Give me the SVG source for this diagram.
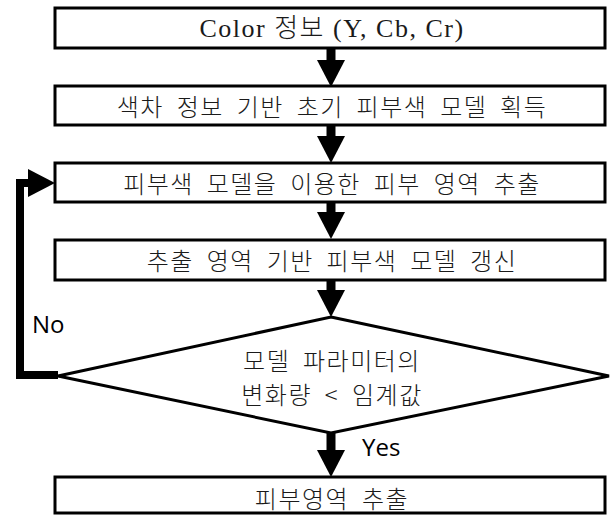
<svg xmlns="http://www.w3.org/2000/svg" width="612" height="515" viewBox="0 0 612 515">
<style>
.box{fill:#fff;stroke:#000;stroke-width:3}
.t{font-family:"Liberation Serif","Noto Sans CJK KR",serif;font-size:26px;fill:#1a1a1a;text-anchor:middle;dominant-baseline:central;letter-spacing:1.5px;font-weight:300}
.k{font-family:"Noto Sans CJK KR",sans-serif;font-size:24px;fill:#1a1a1a;text-anchor:middle;dominant-baseline:central;letter-spacing:1.5px;word-spacing:6px;font-weight:300}
.lbl{font-family:"Open Sans","Noto Sans",sans-serif;font-size:24px;fill:#000}
.shaft{stroke:#000;stroke-width:9;fill:none}
</style>
<defs>
<path id="ah" d="M-14,0 L14,0 L0,27 Z" fill="#000"/>
</defs>
<g id="connectors">
<line class="shaft" x1="331" y1="48" x2="331" y2="62"/><use href="#ah" x="331" y="60"/>
<line class="shaft" x1="331" y1="125" x2="331" y2="138"/><use href="#ah" x="331" y="136"/>
<line class="shaft" x1="331" y1="202" x2="331" y2="214"/><use href="#ah" x="331" y="212"/>
<line class="shaft" x1="331" y1="280" x2="331" y2="292"/><use href="#ah" x="331" y="290"/>
<line class="shaft" x1="331" y1="433" x2="331" y2="452"/><use href="#ah" x="331" y="450"/>
<polyline points="58,375 20,375 20,183 30,183" fill="none" stroke="#000" stroke-width="8"/>
<path d="M28,169 L55,183 L28,197 Z" fill="#000"/>
<text class="lbl" x="32" y="333">No</text>
<text class="lbl" x="362" y="456">Yes</text>
</g>
<g id="n1"><rect class="box" x="55" y="8" width="550" height="40"/><text class="t" x="332" y="28">Color 정보 (Y, Cb, Cr)</text></g>
<g id="n2"><rect class="box" x="55" y="86" width="550" height="39"/><text class="k" x="332" y="105">색차 정보 기반 초기 피부색 모델 획득</text></g>
<g id="n3"><rect class="box" x="55" y="163" width="550" height="39"/><text class="k" x="332" y="182">피부색 모델을 이용한 피부 영역 추출</text></g>
<g id="n4"><rect class="box" x="55" y="240" width="550" height="40"/><text class="k" x="332" y="259">추출 영역 기반 피부색 모델 갱신</text></g>
<g id="n5"><polygon class="box" points="331,317 609,376 331,433 58,376"/><text class="k" x="332" y="359">모델 파라미터의</text><text class="k" x="332" y="393">변화량 &lt; 임계값</text></g>
<g id="n6"><rect class="box" x="55" y="477" width="550" height="36"/><text class="k" x="332" y="497">피부영역 추출</text></g>
</svg>
